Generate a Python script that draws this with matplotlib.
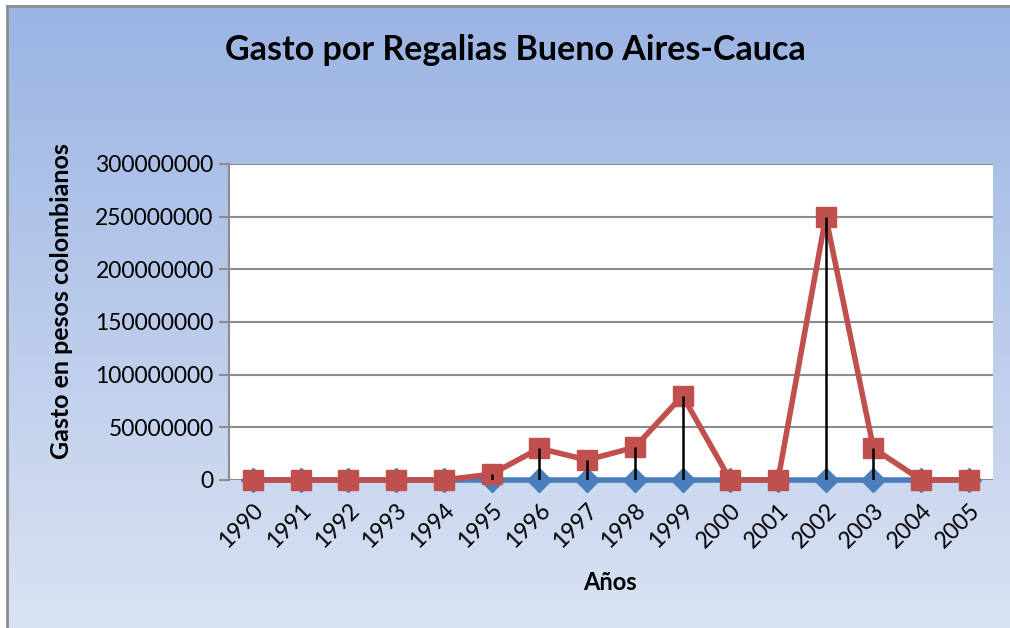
import numpy as np
import matplotlib
matplotlib.use("Agg")
from matplotlib import pyplot as plt
from matplotlib.colors import LinearSegmentedColormap

plt.rcParams["font.family"]=["Lato","DejaVu Sans"]

years=[str(y) for y in range(1990,2006)]
serie_azul=[0,0,0,0,0,0,0,0,0,0,0,0,0,0,0,0]
serie_roja=[0,0,0,0,0,5500000,30000000,19000000,31000000,80000000,0,0,250000000,30000000,0,0]
yticks=[0,50000000,100000000,150000000,200000000,250000000,300000000]

fig=plt.figure(figsize=(10.1,6.28),dpi=100)

# gradient background of the chart area (runs off the right and bottom edges)
bg=fig.add_axes([0.007,-0.05,1.05,1.04],zorder=0)
grad=LinearSegmentedColormap.from_list("bg",["#9ab4e3","#dde5f3"])
bg.imshow(np.linspace(0,1,256).reshape(-1,1),aspect="auto",cmap=grad,extent=[0,1,0,1])
bg.set_xlim(0,1);bg.set_ylim(0,1)
bg.set_xticks([]);bg.set_yticks([])
for k,s in bg.spines.items():
    s.set_color("#8c8c8c");s.set_linewidth(2)
    if k in ("right","bottom"):
        s.set_visible(False)

ax=fig.add_axes([0.2267,0.2357,0.7563,0.5033],zorder=1)
ax.set_facecolor("white")
x=np.arange(len(years))

ax.plot(x,serie_azul,color="#4a7ebb",lw=4,marker="D",ms=12,mec="#4a7ebb",zorder=3,clip_on=False)
ax.plot(x,serie_roja,color="#c0504d",lw=4,marker="s",ms=15,mec="#c0504d",zorder=4,clip_on=False)
# high-low lines between the two series
ax.vlines(x,serie_azul,serie_roja,color="black",lw=1.8,zorder=5)

ax.set_xlim(-0.5,len(years)-0.5)
ax.set_ylim(0,300000000)
ax.set_yticks(yticks)
ax.set_yticklabels([str(v) for v in yticks],fontsize=16.5)
ax.set_xticks(x)
ax.set_xticklabels(years,rotation=45,ha="right",va="top",rotation_mode="anchor",fontsize=16.5)
ax.tick_params(axis="x",length=0,pad=14)
ax.tick_params(axis="y",length=7,color="#8c8c8c",width=1.5,pad=4)
ax.grid(axis="y",color="#8c8c8c",lw=1.5,zorder=1)
ax.set_axisbelow(True)
for k in ["top","right","bottom"]:
    ax.spines[k].set_visible(False)
ax.spines["left"].set_color("#8c8c8c")
ax.spines["left"].set_linewidth(1.5)

fig.text(0.510,0.920,"Gasto por Regalias Bueno Aires-Cauca",ha="center",va="center",fontsize=24.5,fontweight="bold")
fig.text(0.061,0.520,"Gasto en pesos colombianos",ha="center",va="center",rotation=90,fontsize=18,fontweight="bold")
fig.text(0.604,0.072,"Años",ha="center",va="center",fontsize=17,fontweight="bold")

fig.savefig("out.png",dpi=100)
